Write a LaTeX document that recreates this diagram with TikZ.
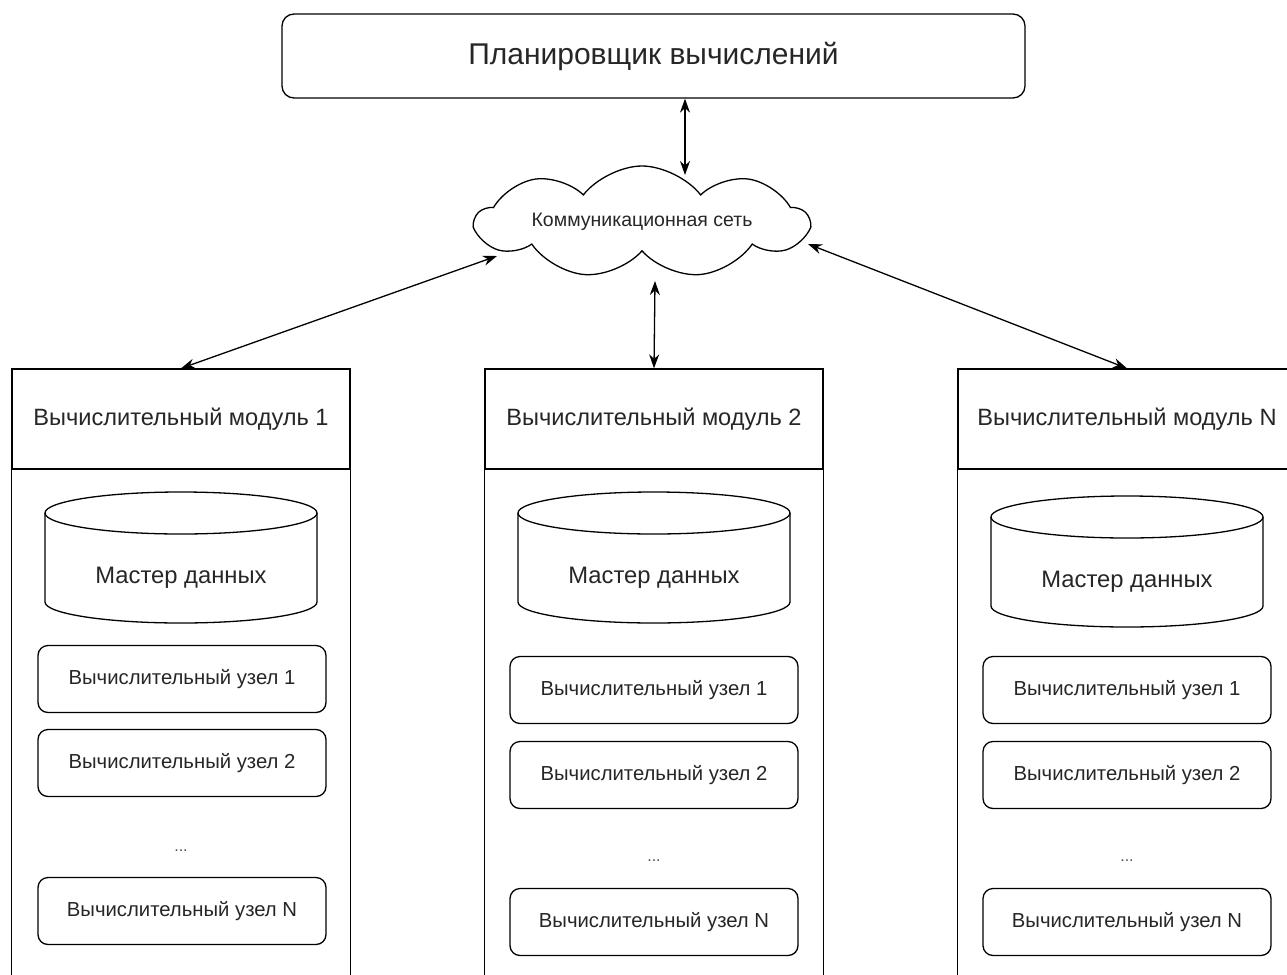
\documentclass[tikz,border=0pt]{standalone}
\usepackage{fontspec}
\setmainfont{Liberation Sans}
\usetikzlibrary{arrows.meta,shapes.symbols}

\begin{document}
\begin{tikzpicture}[x=1pt,y=-1pt,line width=1.3pt,
	planbox/.style={draw,rounded corners=12pt,minimum width=743pt,minimum height=84pt,
		font=\fontsize{30}{35}\selectfont,text=black!85},
	modhead/.style={draw,minimum width=338pt,minimum height=100pt,
		font=\fontsize{23.6}{28}\selectfont,text=black!85},
	nodebox/.style={draw,rounded corners=10pt,minimum width=288pt,minimum height=67pt,
		font=\fontsize{20.3}{24}\selectfont,text=black!85},
	dbtext/.style={font=\fontsize{23.8}{28}\selectfont,text=black!85},
	dotstext/.style={font=\fontsize{16}{20}\selectfont,text=black!70},
	link/.style={{Stealth[length=14pt,width=10pt]}-{Stealth[length=14pt,width=10pt]}}]
	\clip (0,0) rectangle (1287,974);
	
	\node[planbox] (plan) at (653.5,56) {Планировщик вычислений};
	\node[draw,cloud,cloud puffs=9,cloud puff arc=105,cloud ignores aspect,minimum width=332pt,
		minimum height=112pt,font=\fontsize{19.5}{23}\selectfont,text=black!85] (net) at (642,222)
		{Коммуникационная сеть};
	\coordinate (ntop) at (685,175);
	\coordinate (nleft) at (497,256);
	\coordinate (nbot) at (655,281);
	\coordinate (nright) at (808,244);
	
	% module 1
	\node[modhead] (m1) at (181,419) {Вычислительный модуль 1};
	\draw (m1.south west) -- ++(0,530);
	\draw (m1.south east) -- ++(0,530);
	\draw (45,513) -- (45,602) arc[start angle=180,end angle=0,x radius=136,y radius=21] -- (317,513);
	\draw (181,513) ellipse [x radius=136,y radius=21];
	\node[dbtext] (db1) at (181,578) {Мастер данных};
	\begin{scope}[every node/.style={nodebox}]
	\node (n1a) at (182,679) {Вычислительный узел 1};
	\node (n1b) at (182,763) {Вычислительный узел 2};
	\node (n1n) at (182,911) {Вычислительный узел N};
	\end{scope}
	\node[dotstext] (d1) at (181,851) {...};
	
	% module 2
	\node[modhead] (m2) at (654,419) {Вычислительный модуль 2};
	\draw (m2.south west) -- ++(0,530);
	\draw (m2.south east) -- ++(0,530);
	\draw (518,513) -- (518,602) arc[start angle=180,end angle=0,x radius=136,y radius=21] -- (790,513);
	\draw (654,513) ellipse [x radius=136,y radius=21];
	\node[dbtext] (db2) at (654,578) {Мастер данных};
	\begin{scope}[every node/.style={nodebox}]
	\node (n2a) at (654,690) {Вычислительный узел 1};
	\node (n2b) at (654,775) {Вычислительный узел 2};
	\node (n2n) at (654,922) {Вычислительный узел N};
	\end{scope}
	\node[dotstext] (d2) at (654,861) {...};
	
	% module N
	\node[modhead] (m3) at (1127,419) {Вычислительный модуль N};
	\draw (m3.south west) -- ++(0,530);
	\draw (m3.south east) -- ++(0,530);
	\draw (991,517) -- (991,606) arc[start angle=180,end angle=0,x radius=136,y radius=21] -- (1263,517);
	\draw (1127,517) ellipse [x radius=136,y radius=21];
	\node[dbtext] (db3) at (1127,582) {Мастер данных};
	\begin{scope}[every node/.style={nodebox}]
	\node (n3a) at (1127,690) {Вычислительный узел 1};
	\node (n3b) at (1127,775) {Вычислительный узел 2};
	\node (n3n) at (1127,922) {Вычислительный узел N};
	\end{scope}
	\node[dotstext] (d3) at (1127,861) {...};
	
	\draw[link] (plan.south -| ntop) -- (ntop);
	\draw[link] (nleft) -- (m1.north);
	\draw[link] (nbot) -- (m2.north);
	\draw[link] (nright) -- (m3.north);
\end{tikzpicture}
\end{document}
